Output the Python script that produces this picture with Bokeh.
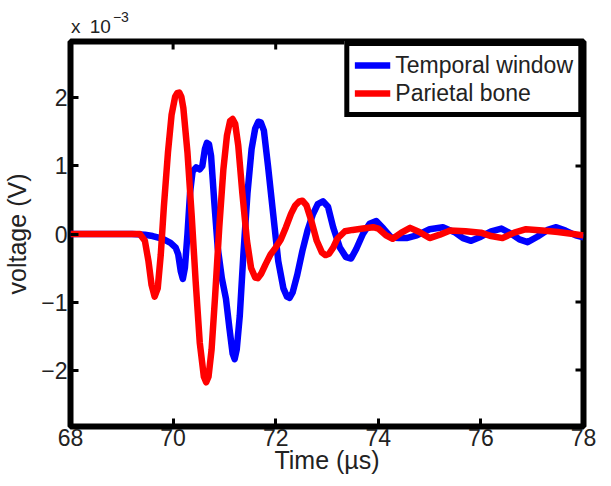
from bokeh.plotting import figure
from bokeh.models import Range1d, FixedTicker, Legend, LegendItem, Div
from bokeh.layouts import column
from bokeh.embed import file_html
from bokeh.resources import INLINE

# ---- data (voltage in units of 1e-3 V) ----
time_temporal = [68.0, 69.2, 69.45, 69.6, 69.8, 69.95, 70.05, 70.1, 70.15, 70.19, 70.23, 70.28,
                 70.33, 70.38, 70.45, 70.52, 70.57, 70.62, 70.66, 70.7, 70.74, 70.8, 70.87, 70.95,
                 71.03, 71.1, 71.16, 71.2, 71.24, 71.3, 71.37, 71.45, 71.53, 71.6, 71.66, 71.71,
                 71.77, 71.85, 71.95, 72.05, 72.15, 72.22, 72.27, 72.33, 72.42, 72.52, 72.62,
                 72.72, 72.82, 72.92, 73.02, 73.12, 73.25, 73.37, 73.47, 73.57, 73.7, 73.83,
                 73.96, 74.1, 74.25, 74.4, 74.55, 74.75, 75.0, 75.26, 75.5, 75.65, 75.81,
                 76.0, 76.2, 76.4, 76.6, 76.75, 76.91, 77.1, 77.3, 77.47, 77.65, 77.85, 78.0]
volt_temporal = [0.0, 0.0, -0.01, -0.03, -0.07, -0.13, -0.2, -0.3, -0.55, -0.66, -0.5, 0.0,
                 0.6, 0.92, 0.98, 0.95, 1.0, 1.25, 1.34, 1.32, 1.15, 0.5, -0.2, -0.65,
                 -0.95, -1.4, -1.76, -1.84, -1.7, -1.2, -0.3, 0.6, 1.25, 1.55, 1.65, 1.64,
                 1.52, 1.0, 0.3, -0.4, -0.8, -0.92, -0.94, -0.86, -0.6, -0.25, 0.05,
                 0.28, 0.44, 0.48, 0.4, 0.1, -0.2, -0.34, -0.36, -0.22, 0.0, 0.15,
                 0.19, 0.08, -0.05, -0.06, -0.06, -0.02, 0.07, 0.1, 0.02, -0.06, -0.1,
                 -0.04, 0.04, 0.08, 0.0, -0.08, -0.12, -0.04, 0.06, 0.1, 0.05, -0.02, -0.05]

time_parietal = [68.0, 69.0, 69.35, 69.45, 69.52, 69.58, 69.64, 69.7, 69.76, 69.82, 69.9,
                 69.97, 70.04, 70.08, 70.12, 70.16, 70.2, 70.28, 70.36, 70.44, 70.52, 70.6,
                 70.645, 70.69, 70.75, 70.82, 70.9, 70.98, 71.05, 71.11, 71.16, 71.21, 71.27,
                 71.35, 71.44, 71.52, 71.6, 71.65, 71.72, 71.8, 71.9, 72.0, 72.1, 72.2,
                 72.3, 72.38, 72.46, 72.52, 72.6, 72.7, 72.8, 72.9, 72.97, 73.04, 73.12,
                 73.2, 73.35, 73.5, 73.7, 73.9, 74.0, 74.15, 74.28, 74.45, 74.62, 74.8,
                 75.0, 75.2, 75.4, 75.7, 76.0, 76.2, 76.42, 76.65, 76.88, 77.2, 77.5,
                 77.8, 78.0]
volt_parietal = [0.0, 0.0, 0.0, -0.1, -0.4, -0.75, -0.92, -0.8, -0.3, 0.4, 1.2,
                 1.75, 2.02, 2.07, 2.08, 2.02, 1.85, 1.2, 0.3, -0.7, -1.6, -2.1,
                 -2.18, -2.1, -1.7, -0.9, 0.1, 0.95, 1.45, 1.66, 1.69, 1.62, 1.3,
                 0.6, -0.1, -0.5, -0.64, -0.65, -0.58, -0.45, -0.3, -0.2, -0.08, 0.1,
                 0.3, 0.42, 0.48, 0.49, 0.42, 0.18, -0.1, -0.27, -0.31, -0.29, -0.2,
                 -0.07, 0.04, 0.06, 0.08, 0.1, 0.08, -0.02, -0.07, 0.02, 0.09, 0.03,
                 -0.06, -0.01, 0.05, 0.04, 0.02, -0.03, -0.06, 0.02, 0.07, 0.05, 0.03,
                 0.0, -0.02]

series_names = ["Temporal window", "Parietal bone"]
x_ticks = [68, 70, 72, 74, 76, 78]
y_ticks = [-2, -1, 0, 1, 2]
y_tick_labels = ["\u22122", "\u22121", "0", "1", "2"]
x_label = "Time (\u00b5s)"
y_label = "voltage (V)"
exp_base = "x 10"
exp_power = "\u22123"
x_min, x_max = 68, 78
y_min, y_max = -2.83, 2.83

FONT = "Liberation Sans"
TXT = "#222222"

exp_div = Div(
    text=('<div style="padding:18px 0 0 71px; font-family:\'Liberation Sans\'; font-size:19px; '
          'color:#222222; word-spacing:4px; white-space:nowrap; line-height:18px;">'
          + exp_base +
          '<span style="font-size:14px; position:relative; top:-11px; margin-left:2px;">'
          + exp_power + '</span></div>'),
    width=601, height=36, margin=(0, 0, 0, 0))

p = figure(width=601, height=440, output_backend="svg", toolbar_location=None,
           x_range=Range1d(x_min, x_max), y_range=Range1d(y_min, y_max),
           min_border_left=69, min_border_right=18, min_border_top=5, min_border_bottom=50,
           margin=(0, 0, 0, 0))
p.xgrid.visible = False
p.ygrid.visible = False
p.outline_line_color = "black"
p.outline_line_width = 6
p.outline_line_alpha = 1.0
p.background_fill_color = "white"
p.border_fill_color = "white"

for ax in (p.xaxis[0], p.yaxis[0]):
    ax.axis_line_color = None
    ax.major_tick_in = 8
    ax.major_tick_out = 0
    ax.major_tick_line_width = 3
    ax.major_tick_line_color = "black"
    ax.minor_tick_line_color = None
    ax.major_label_text_font = FONT
    ax.major_label_text_color = TXT
    ax.major_label_text_font_size = "23px"
    ax.axis_label_text_font = FONT
    ax.axis_label_text_font_style = "normal"
    ax.axis_label_text_color = TXT
    ax.axis_label_text_font_size = "25px"

p.xaxis.ticker = FixedTicker(ticks=x_ticks)
p.yaxis.ticker = FixedTicker(ticks=y_ticks)
p.yaxis.major_label_overrides = {t: lab for t, lab in zip(y_ticks, y_tick_labels)}
p.xaxis.major_label_standoff = 2
p.yaxis.major_label_standoff = 3
p.xaxis.axis_label = x_label
p.yaxis.axis_label = y_label
p.xaxis.axis_label_standoff = -3
p.yaxis.axis_label_standoff = 7

# mirrored inward ticks on the top and right edges (clipped to the frame)
p.rect(x=x_ticks, y=[y_max] * len(x_ticks), width=3, height=16,
       width_units="screen", height_units="screen", fill_color="black", line_color=None)
p.rect(x=[x_max] * len(y_ticks), y=y_ticks, width=16, height=3,
       width_units="screen", height_units="screen", fill_color="black", line_color=None)

r1 = p.line(time_temporal, volt_temporal, line_color="#0000ff", line_width=6.5, line_join="round")
r2 = p.line(time_parietal, volt_parietal, line_color="#ff0000", line_width=6.5, line_join="round")

legend = Legend(items=[LegendItem(label=series_names[0], renderers=[r1]),
                       LegendItem(label=series_names[1], renderers=[r2])],
                location="top_right", margin=0, padding=5, spacing=0,
                label_text_font=FONT, label_text_font_size="23px", label_text_color=TXT,
                label_height=28, glyph_height=28, glyph_width=36, label_standoff=5,
                border_line_color="black", border_line_width=5, border_line_alpha=1.0,
                background_fill_color="white", background_fill_alpha=1.0)
p.add_layout(legend)

layout = column(exp_div, p, spacing=0)
open("out.html", "w").write(file_html(layout, INLINE))
